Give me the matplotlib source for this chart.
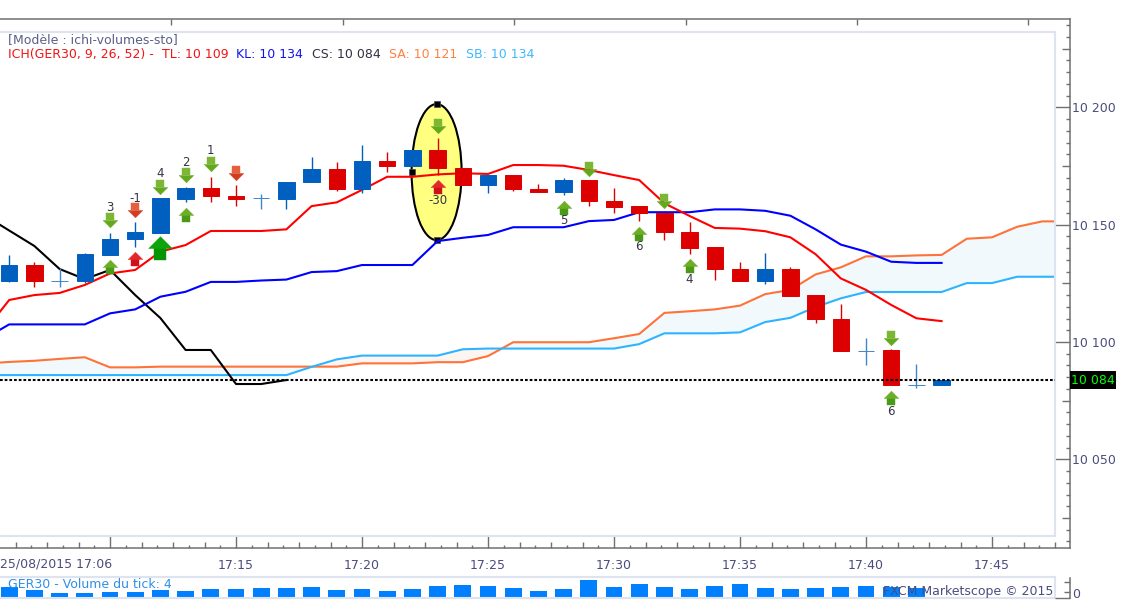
import matplotlib
matplotlib.use('Agg')
import matplotlib.pyplot as plt
import numpy as np
from matplotlib.patches import Ellipse, Rectangle
from matplotlib.path import Path
from matplotlib.ticker import FuncFormatter

W, H = 1127, 600

# minutes after 17:00, one candle a minute
minutes = list(range(6, 44))
opens = [10126, 10133, 10126, 10126, 10137, 10144, 10146.5, 10161, 10165.5, 10162,
         10161.5, 10161, 10168, 10173.5, 10165, 10177, 10175, 10182, 10174, 10167,
         10171, 10165, 10164, 10169, 10160, 10158, 10155, 10147, 10140.5, 10131,
         10126, 10131, 10120, 10110, 10096, 10096.5, 10081.5, 10081.5]
closes = [10133, 10126, 10126, 10137.5, 10144, 10147, 10161.5, 10165.5, 10162, 10161,
          10161.5, 10168, 10173.5, 10165, 10177, 10175, 10182, 10174, 10167, 10171,
          10165, 10164, 10169, 10160, 10157.5, 10155, 10147, 10140, 10131, 10126,
          10131, 10119.5, 10110, 10096, 10096, 10081.5, 10081.5, 10084]
highs = [10137, 10134, 10131.5, 10138, 10146.5, 10151, 10161.5, 10166, 10170.5, 10167,
         10163, 10168, 10179, 10176.5, 10184, 10181, 10182, 10187, 10174, 10171,
         10171, 10167.5, 10170, 10169, 10165.5, 10158, 10155, 10151, 10140.5, 10134,
         10138, 10132, 10120, 10116, 10101.5, 10097, 10090.5, 10084]
lows = [10125.5, 10123.5, 10123.5, 10125, 10137, 10140.5, 10146.5, 10159.5, 10159.5, 10158,
        10156.5, 10156.5, 10168, 10164.5, 10163.5, 10172.5, 10175, 10171, 10167, 10163.5,
        10164.5, 10164, 10162.5, 10158, 10155, 10151.5, 10143.5, 10137.5, 10126.5, 10126,
        10124.5, 10119.5, 10108, 10096, 10090, 10081.5, 10080.5, 10081.5]
volumes = [45, 32, 21, 21, 25, 25, 33, 29, 37, 37, 41, 41, 45, 33, 37, 29, 37, 49, 53,
           49, 41, 29, 37, 73, 45, 57, 45, 37, 49, 57, 41, 37, 41, 45, 49, 45, 41, 4]

line_minutes = list(range(5, 44))
tenkan = [10104.3, 10117.9, 10120, 10120.9, 10124.3, 10129.2, 10130.7, 10138.5, 10141.3, 10147.3,
          10147.3, 10147.3, 10148, 10157.9, 10159.5, 10164.8, 10170.4, 10170.4, 10171.4, 10171.9,
          10171.6, 10175.4, 10175.4, 10175.1, 10173.3, 10171.1, 10169, 10159.1, 10153.7, 10148.6,
          10148.3, 10147.2, 10144.6, 10137.4, 10127.1, 10122.2, 10115.8, 10110.1, 10108.9]
kijun = [10101.3, 10107.5, 10107.5, 10107.5, 10107.5, 10112.2, 10113.9, 10119.3, 10121.4, 10125.6,
         10125.6, 10126.2, 10126.6, 10129.8, 10130.2, 10132.8, 10132.8, 10132.8, 10143, 10144.4,
         10145.6, 10148.9, 10148.9, 10148.9, 10151.5, 10152, 10155.3, 10155.3, 10155.3, 10156.5,
         10156.5, 10155.9, 10153.8, 10148, 10141.5, 10138.5, 10134.2, 10133.7, 10133.7]

chikou_minutes = list(range(5, 18))
chikou = [10154.1, 10147.5, 10140.9, 10131.1, 10126.8, 10130.7, 10120, 10110.2, 10096.6,
          10096.6, 10082.1, 10082.1, 10083.8]

cloud_minutes = list(range(5, 49))
senkou_a = [10090.8, 10091.5, 10092, 10092.8, 10093.5, 10089.2, 10089.2, 10089.5, 10089.5,
            10089.5, 10089.5, 10089.5, 10089.5, 10089.5, 10089.5, 10090.9, 10090.9, 10090.9,
            10091.4, 10091.4, 10094, 10099.9, 10099.9, 10099.9, 10099.9, 10101.6, 10103.4,
            10112.4, 10113.1, 10113.9, 10115.5, 10120.4, 10122.2, 10128.8, 10131.8, 10136.5,
            10136.5, 10136.9, 10137.1, 10144, 10144.6, 10149.1, 10151.4, 10151.4]
senkou_b = [10085.9, 10085.9, 10085.9, 10085.9, 10085.9, 10085.9, 10085.9, 10085.9, 10085.9,
            10085.9, 10085.9, 10085.9, 10085.9, 10089.4, 10092.6, 10094.2, 10094.2, 10094.2,
            10094.2, 10096.9, 10097.2, 10097.2, 10097.2, 10097.2, 10097.2, 10097.2, 10099.1,
            10103.7, 10103.7, 10103.7, 10104.1, 10108.5, 10110.3, 10114.9, 10118.6, 10121.3,
            10121.3, 10121.3, 10121.3, 10125.1, 10125.1, 10127.8, 10127.8, 10127.8]

# signal arrows
arrow_minutes = [10, 10, 11, 11, 12, 12, 13, 13, 14, 15, 23, 23, 28, 29, 31, 32, 33, 41, 41]
arrow_prices = [10152, 10132.1, 10156.2, 10135.4, 10166.2, 10140, 10171.1, 10154.2, 10176, 10172.1,
                10192.1, 10166, 10157.1, 10173.8, 10146.1, 10159.9, 10132.2, 10101.8, 10076]
arrow_kinds = ['gd', 'gu', 'rd', 'ru', 'gd', 'GU', 'gd', 'gu', 'gd', 'rd',
               'gd', 'ru', 'gu', 'gd', 'gu', 'gd', 'gu', 'gd', 'gu']

signal_minutes = [10, 11, 12, 13, 14, 23, 28, 31, 33, 41]
signal_prices = [10157.2, 10161.3, 10171.6, 10176.3, 10181.4, 10160.5, 10151.8, 10140.8, 10126.8, 10070.5]
signal_labels = ['3', '-1', '4', '2', '1', '-30', '5', '6', '4', '6']

last_price = 10084
time_ticks = [10, 15, 20, 25, 30, 35, 40, 45]
time_labels = ['', '17:15', '17:20', '17:25', '17:30', '17:35', '17:40', '17:45']

price_ticks = [10050, 10100, 10150, 10200]

INK = '#4c4c7e'
PALE = '#dde3ef'
AXIS = '#707070'
BLUE_C = '#005fbf'
RED_C = '#dc0000'
plt.rcParams['font.family'] = ['DejaVu Sans']


def px_to_minute(x):
    return 15 + (x - 236) / 25.2


def px_to_price(y):
    return 10100 + (342 - y) / 2.347


def add_axes(left, top, right, bottom):
    return fig.add_axes([left / W, 1 - bottom / H, (right - left) / W, (bottom - top) / H])


def arrow_paths():
    shaft = Path([(-0.55, -1), (0.55, -1), (0.55, 0.05), (-0.55, 0.05), (-0.55, -1)])
    head = Path([(-1, 0), (1, 0), (0, 1), (-1, 0)])
    return shaft, head


def draw_arrow(ax, minute, price, kind):
    shaft, head = arrow_paths()
    big = kind == 'GU'
    size = 17 if big else 10.5
    up = kind[1].lower() == 'u'
    if kind[0] == 'r':
        shaft_col, head_col = ('#d01018', '#e02a2a') if up else ('#e4603e', '#d23c20')
    elif big:
        shaft_col, head_col = '#049404', '#0ca40c'
    else:
        shaft_col, head_col = ('#4a9a18', '#6cae26') if up else ('#7cb634', '#64a81e')
    if not up:
        shaft = Path(shaft.vertices * [1, -1])
        head = Path(head.vertices * [1, -1])
    # the shaft path reaches y=-1 and the head y=1, so each marker gets the same scale
    for path, col in ((shaft, shaft_col), (head, head_col)):
        ax.plot([minute], [price], marker=path, ms=size, mfc=col, mec=col, mew=0.3,
                ls='none', zorder=6)


fig = plt.figure(figsize=(W / 100, H / 100), dpi=100)

# outer frame with the ticks
frame = add_axes(0, 19, 1070, 548)
frame.set_xlim(px_to_minute(0), px_to_minute(1070))
frame.set_ylim(px_to_price(548), px_to_price(19))
frame.spines['left'].set_visible(False)
for side in ('top', 'right', 'bottom'):
    frame.spines[side].set_color(AXIS)
    frame.spines[side].set_linewidth(1.1)
frame.yaxis.tick_right()
frame.set_yticks(price_ticks)
frame.yaxis.set_major_formatter(FuncFormatter(lambda v, p: f'{v:,.0f}'.replace(',', ' ')))
frame.tick_params(axis='y', which='major', direction='in', length=10.8, width=1, color=AXIS,
                  labelsize=9, labelcolor=INK, pad=1.5)
fine_prices = [p for p in np.arange(10015, 10240, 5) if p not in price_ticks]
frame.set_yticks(fine_prices, minor=True)
frame.tick_params(axis='y', which='minor', direction='in', width=1, color=AXIS)
for tick, p in zip(frame.yaxis.get_minor_ticks(), fine_prices):
    tick.tick2line.set_markersize(5.8 if p % 25 == 0 else 3.2)

frame.set_xticks(time_ticks, time_labels)
frame.tick_params(axis='x', which='major', direction='in', length=8.6, width=1, color=AXIS,
                  labelsize=9, labelcolor=INK, pad=8)
fine_steps = np.arange(0, 68) * 0.625 + 5.625
fine_steps = [s for s in fine_steps if (s % 5) != 0 and s > px_to_minute(0)]
frame.set_xticks(fine_steps, minor=True)
frame.tick_params(axis='x', which='minor', direction='in', width=1, color=AXIS)
for tick, s in zip(frame.xaxis.get_minor_ticks(), fine_steps):
    tick.tick1line.set_markersize(4.3 if (s / 0.625) % 2 == 0 else 2.2)

top_ticks = frame.twiny()
top_ticks.set_xlim(0, 1070)
top_ticks.set_xticks(np.arange(1, 7) * 171.4, [])
top_ticks.tick_params(axis='x', direction='in', length=4.5, width=1, color=AXIS)
for side in top_ticks.spines.values():
    side.set_visible(False)

# price panel
ax = add_axes(0, 32, 1055, 536)
ax.set_xlim(px_to_minute(0), px_to_minute(1055))
ax.set_ylim(px_to_price(536), px_to_price(32))
ax.set_xticks([])
ax.set_yticks([])
ax.spines['left'].set_visible(False)
for side in ('top', 'right', 'bottom'):
    ax.spines[side].set_color(PALE)
    ax.spines[side].set_linewidth(1.5)

sa = np.array(senkou_a)
sb = np.array(senkou_b)
ax.fill_between(cloud_minutes, sa, sb, where=sa >= sb, interpolate=True, color='#f1f9fd', lw=0, zorder=1)
ax.fill_between(cloud_minutes, sa, sb, where=sa < sb, interpolate=True, color='#fdf5f1', lw=0, zorder=1)
ax.plot(cloud_minutes, senkou_a, color='#ff7238', lw=1.5, zorder=2)
ax.plot(cloud_minutes, senkou_b, color='#2eb4ff', lw=1.5, zorder=2)
ax.plot(chikou_minutes, chikou, color='black', lw=1.5, zorder=2.2)

# the hand drawn ellipse
ax.add_patch(Ellipse((22.96, 10172.4), 50 / 25.2, 136 / 2.347, facecolor='#ffff80',
                     edgecolor='black', lw=1.5, zorder=2.5))
ax.plot([22.96, 22.96, 21.97], [10201.4, 10143.4, 10172.4], ls='none', marker='s', ms=4.5,
        mfc='black', mec='#444466', mew=0.5, zorder=2.6)

ax.plot(line_minutes, kijun, color='#0000ff', lw=1.5, zorder=3)
ax.plot(line_minutes, tenkan, color='#ff0000', lw=1.5, zorder=3)

colours = []
for o, c in zip(opens, closes):
    colours.append(RED_C if c < o else BLUE_C)
colours = [('#3f86cc' if o == c else col) for o, c, col in zip(opens, closes, colours)]
ax.vlines(minutes, lows, highs, colors=colours, lw=1, zorder=4)
ax.bar(minutes, np.array(closes) - np.array(opens), bottom=opens, width=0.65, color=colours,
       edgecolor=colours, lw=0.7, zorder=5)

for minute, price, kind in zip(arrow_minutes, arrow_prices, arrow_kinds):
    draw_arrow(ax, minute, price, kind)
for minute, price, label in zip(signal_minutes, signal_prices, signal_labels):
    ax.text(minute, price, label, ha='center', va='center', fontsize=8.5, color='#333344', zorder=7)

ax.axhline(last_price, color='black', lw=1.5, ls=(0, (1.3, 0.95)), zorder=7)

# volume panel
vol = add_axes(0, 577, 1055, 598)
vol.set_xlim(px_to_minute(0), px_to_minute(1055))
vol.set_ylim(0, 84)
vol.set_xticks([])
vol.set_yticks([])
vol.spines['left'].set_visible(False)
for side in ('top', 'right', 'bottom'):
    vol.spines[side].set_color(PALE)
    vol.spines[side].set_linewidth(1.5)
vol.bar(minutes, volumes, width=0.67, color='#0080ff', lw=0)

vol_frame = add_axes(0, 578, 1070, 598)
vol_frame.patch.set_visible(False)
vol_frame.set_ylim(0, 80)
vol_frame.set_xticks([])
for side in ('left', 'top', 'bottom'):
    vol_frame.spines[side].set_visible(False)
vol_frame.spines['right'].set_color(AXIS)
vol_frame.spines['right'].set_linewidth(1.1)
vol_frame.yaxis.tick_right()
vol_frame.set_yticks([0], [''])
vol_frame.tick_params(axis='y', which='major', direction='in', length=10.8, width=1, color=AXIS)
vol_frame.set_yticks([24, 64], minor=True)
vol_frame.tick_params(axis='y', which='minor', direction='in', length=4, width=1, color=AXIS)


# text
def px_text(x, y, text, color, **kw):
    fig.text(x / W, 1 - y / H, text, color=color, fontsize=9, va='center', zorder=10, **kw)


px_text(8, 40, '[Modèle : ichi-volumes-sto]', '#5a5f86')
px_text(8, 54.5, 'ICH(GER30, 9, 26, 52) -', '#f01414')
px_text(162, 54.5, 'TL: 10 109', '#f01414')
px_text(236, 54.5, 'KL: 10 134', '#1414f0')
px_text(312, 54.5, 'CS: 10 084', '#303040')
px_text(389, 54.5, 'SA: 10 121', '#ff8040')
px_text(466, 54.5, 'SB: 10 134', '#40b8ff')
px_text(0, 564, '25/08/2015 17:06', INK)
px_text(8, 585, 'GER30 - Volume du tick: 4', '#2f8fe8')
px_text(1053, 592, 'FXCM Marketscope © 2015', INK, ha='right')
px_text(1072, 594, '0', INK)

fig.add_artist(Rectangle((1070 / W, 1 - 389 / H), 46 / W, 18.5 / H, transform=fig.transFigure,
                         facecolor='black', edgecolor='none', zorder=9))
px_text(1093, 380, '10 084', '#00ff00', ha='center')

fig.savefig('out.png', dpi=100)
